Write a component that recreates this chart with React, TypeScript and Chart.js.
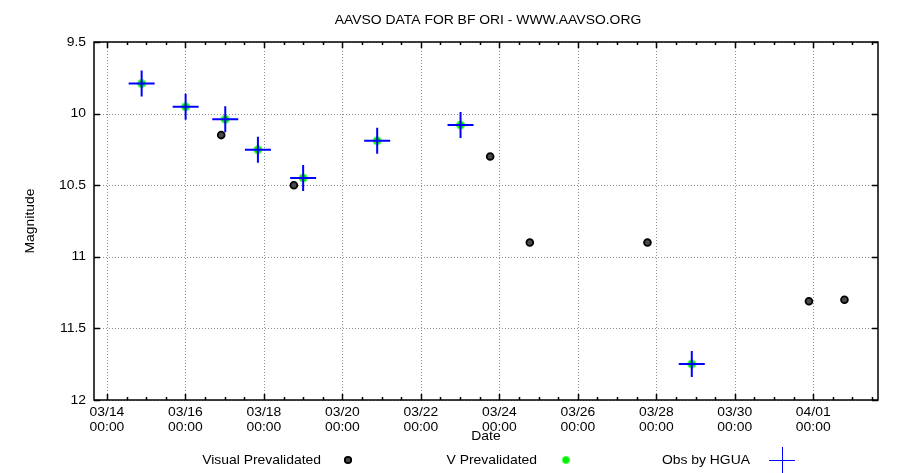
import React, { useEffect, useRef } from 'react';
import { Chart, registerables } from 'chart.js';

Chart.register(...registerables);

// Time origin of the x axis: 03/14 00:00 (UTC)
const ORIGIN = '2013-03-14T00:00Z';

// Visual Prevalidated observations
const visualDates = [
  '2013-03-16T21:53Z',
  '2013-03-18T18:20Z',
  '2013-03-23T18:23Z',
  '2013-03-24T18:39Z',
  '2013-03-27T18:36Z',
  '2013-03-31T21:22Z',
  '2013-04-01T19:05Z',
];
const visualMags = [10.15, 10.5, 10.3, 10.9, 10.9, 11.31, 11.3];

// V Prevalidated observations
const vDates = [
  '2013-03-14T21:13Z',
  '2013-03-16T00:07Z',
  '2013-03-17T00:22Z',
  '2013-03-17T20:20Z',
  '2013-03-19T00:00Z',
  '2013-03-20T21:17Z',
  '2013-03-23T00:16Z',
  '2013-03-28T21:42Z',
];
const vMags = [9.79, 9.953, 10.04, 10.253, 10.45, 10.19, 10.08, 11.749];

// Observations by HGUA
const hguaDates = vDates;
const hguaMags = vMags;

// Axis ticks
const xTickDays = [0, 2, 4, 6, 8, 10, 12, 14, 16, 18];
const xTickLabels = ['03/14', '03/16', '03/18', '03/20', '03/22', '03/24', '03/26', '03/28', '03/30', '04/01'];
const xTickTime = '00:00';
const yTicks = [9.5, 10, 10.5, 11, 11.5, 12];
const yTickLabels = ['9.5', '10', '10.5', '11', '11.5', '12'];

const X_MIN = -0.33;
const X_MAX = 19.65;

const DAY = 86400000;
const toDays = (s: string) => (Date.parse(s) - Date.parse(ORIGIN)) / DAY;
const pts = (d: string[], m: number[]) => d.map((s, i) => ({ x: toDays(s), y: m[i] }));

const FONT = '"Liberation Sans", Arial, Helvetica, sans-serif';
const SX = 1.07;

const VIS_FILL = '#4a4a4a';
const VIS_EDGE = '#000000';
const V_FILL = '#00ee00';
const V_EDGE = '#55ff55';

function txt(ctx: CanvasRenderingContext2D, s: string, x: number, y: number, align: CanvasTextAlign, size = 13, rot = 0) {
  ctx.save();
  ctx.translate(x, y);
  if (rot) ctx.rotate(rot);
  ctx.scale(SX, 1);
  ctx.font = `${size}px ${FONT}`;
  ctx.textAlign = align;
  ctx.textBaseline = 'middle';
  ctx.fillStyle = '#000';
  ctx.fillText(s, 0, 0);
  ctx.restore();
}

function dot(ctx: CanvasRenderingContext2D, x: number, y: number, r: number, fill: string, edge: string, w: number) {
  ctx.save();
  ctx.beginPath();
  ctx.arc(x, y, r, 0, Math.PI * 2);
  ctx.fillStyle = fill;
  ctx.fill();
  ctx.lineWidth = w;
  ctx.strokeStyle = edge;
  ctx.stroke();
  ctx.restore();
}

const framePlugin = {
  id: 'gnuplotFrame',
  beforeDatasetsDraw(chart: any) {
    const { ctx, chartArea: a, scales } = chart;
    const xs = scales.x;
    const ys = scales.y;
    ctx.save();
    // grid
    ctx.lineWidth = 1;
    ctx.strokeStyle = '#8c8c8c';
    ctx.setLineDash([1, 2]);
    xTickDays.forEach((d) => {
      const px = Math.round(xs.getPixelForValue(d)) + 0.5;
      ctx.beginPath();
      ctx.moveTo(px, a.top);
      ctx.lineTo(px, a.bottom);
      ctx.stroke();
    });
    yTicks.forEach((v) => {
      const py = Math.round(ys.getPixelForValue(v)) + 0.5;
      ctx.beginPath();
      ctx.moveTo(a.left, py);
      ctx.lineTo(a.right, py);
      ctx.stroke();
    });
    ctx.setLineDash([]);
    // ticks
    ctx.strokeStyle = '#000';
    ctx.lineWidth = 1.5;
    const MAJ = 6;
    const MIN = 3;
    for (let d = Math.ceil(X_MIN * 2) / 2; d <= X_MAX; d += 0.5) {
      const px = Math.round(xs.getPixelForValue(d)) + 0.5;
      const len = Number.isInteger(d) && d % 2 === 0 ? MAJ : MIN;
      ctx.beginPath();
      ctx.moveTo(px, a.bottom);
      ctx.lineTo(px, a.bottom - len);
      ctx.moveTo(px, a.top);
      ctx.lineTo(px, a.top + len);
      ctx.stroke();
    }
    yTicks.forEach((v) => {
      const py = Math.round(ys.getPixelForValue(v)) + 0.5;
      ctx.beginPath();
      ctx.moveTo(a.left, py);
      ctx.lineTo(a.left + MAJ, py);
      ctx.moveTo(a.right, py);
      ctx.lineTo(a.right - MAJ, py);
      ctx.stroke();
    });
    // frame
    ctx.lineWidth = 1.5;
    ctx.strokeRect(a.left, a.top, a.right - a.left, a.bottom - a.top);
    ctx.restore();
  },
  afterDraw(chart: any) {
    const { ctx, chartArea: a, scales } = chart;
    const xs = scales.x;
    const ys = scales.y;
    const cx = (a.left + a.right) / 2;
    // title
    txt(ctx, 'AAVSO DATA FOR BF ORI - WWW.AAVSO.ORG', cx + 2, 20, 'center');
    // y tick labels
    yTicks.forEach((v, i) => {
      txt(ctx, yTickLabels[i], a.left - 8, ys.getPixelForValue(v), 'right');
    });
    // x tick labels
    xTickDays.forEach((d, i) => {
      const px = xs.getPixelForValue(d);
      txt(ctx, xTickLabels[i], px, a.bottom + 12, 'center');
      txt(ctx, xTickTime, px, a.bottom + 27, 'center');
    });
    // axis titles
    txt(ctx, 'Date', cx, a.bottom + 36, 'center');
    txt(ctx, 'Magnitude', 30, (a.top + a.bottom) / 2, 'center', 13, -Math.PI / 2);
    // legend
    const ly = 460;
    txt(ctx, 'Visual Prevalidated', 321, ly, 'right');
    dot(ctx, 348, ly, 3.2, VIS_FILL, VIS_EDGE, 1.8);
    txt(ctx, 'V Prevalidated', 537, ly, 'right');
    dot(ctx, 566, ly, 3.5, V_FILL, V_EDGE, 1.2);
    txt(ctx, 'Obs by HGUA', 750, ly, 'right');
    ctx.save();
    ctx.strokeStyle = '#0000ff';
    ctx.lineWidth = 1;
    ctx.beginPath();
    ctx.moveTo(769, ly + 0.5);
    ctx.lineTo(795, ly + 0.5);
    ctx.moveTo(782.5, ly - 13);
    ctx.lineTo(782.5, ly + 13);
    ctx.stroke();
    ctx.restore();
  },
};

export default function App() {
  const ref = useRef<HTMLCanvasElement | null>(null);
  useEffect(() => {
    document.body.style.margin = '0';
    if (!ref.current) return;
    const chart = new Chart(ref.current, {
      type: 'scatter',
      data: {
        datasets: [
          {
            label: 'Visual Prevalidated',
            data: pts(visualDates, visualMags),
            pointStyle: 'circle',
            radius: 3.4,
            backgroundColor: VIS_FILL,
            borderColor: VIS_EDGE,
            borderWidth: 1.8,
            order: 3,
          },
          {
            label: 'V Prevalidated',
            data: pts(vDates, vMags),
            pointStyle: 'circle',
            radius: 4,
            backgroundColor: V_FILL,
            borderColor: V_EDGE,
            borderWidth: 1.2,
            order: 2,
          },
          {
            label: 'Obs by HGUA',
            data: pts(hguaDates, hguaMags),
            pointStyle: 'cross',
            radius: 13,
            borderColor: '#0000ff',
            borderWidth: 2,
            order: 1,
          },
        ],
      },
      options: {
        responsive: false,
        animation: false,
        events: [],
        layout: { padding: { left: 94, right: 22, top: 42, bottom: 73 } },
        plugins: { legend: { display: false }, title: { display: false }, tooltip: { enabled: false } },
        scales: {
          x: { type: 'linear', min: X_MIN, max: X_MAX, display: false },
          y: { type: 'linear', min: 9.5, max: 12, reverse: true, display: false },
        },
      },
      plugins: [framePlugin],
    });
    return () => chart.destroy();
  }, []);
  return (
    <div style={{ position: 'fixed', left: 0, top: 0, width: 900, height: 473, background: '#fff' }}>
      <canvas ref={ref} width={900} height={473} style={{ width: 900, height: 473, display: 'block' }} />
    </div>
  );
}
